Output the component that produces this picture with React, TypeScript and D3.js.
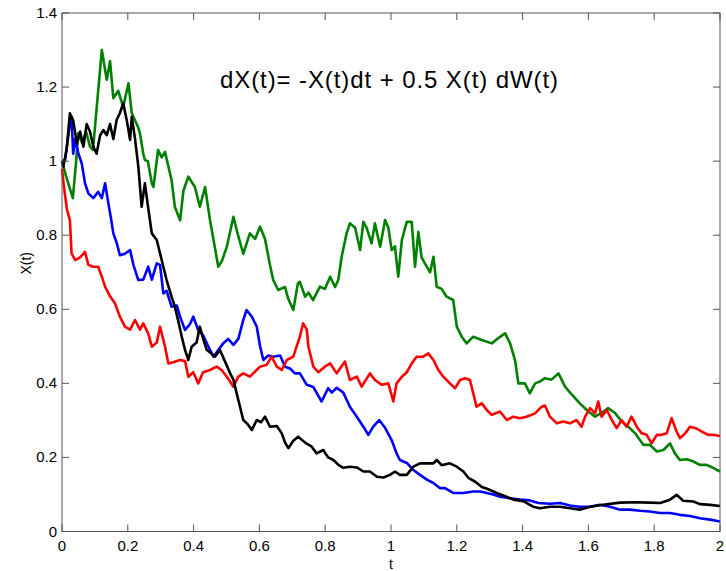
import React from 'react'
import * as d3 from 'd3'

const width = 726,
      height = 571,
      left = 62,
      right = 720,
      top = 13,
      bottom = 531.5

const xTicks = [0, 0.2, 0.4, 0.6, 0.8, 1, 1.2, 1.4, 1.6, 1.8, 2]
const yTicks = [0, 0.2, 0.4, 0.6, 0.8, 1, 1.2, 1.4]

// green path
const greenT = [0, .012, .033, .043, .049, .061, .073, .085, .094, .106, .121, .136, .146, .156, .171, .186, .202, .212, .232, .237, .247, .252, .261, .273, .278, .292, .303, .313, .333, .343, .359, .369, .384, .404, .419, .435, .450, .462, .475, .486, .501, .521, .535, .551, .571, .587, .602, .617, .632, .642, .657, .678, .687, .703, .717, .723, .739, .749, .763, .784, .799, .815, .830, .840, .850, .865, .875, .891, .906, .916, .926, .941, .951, .967, .982, .992, 1.002, 1.012, 1.022, 1.033, 1.048, 1.063, 1.073, 1.083, 1.093, 1.103, 1.119, 1.129, 1.139, 1.154, 1.169, 1.189, 1.200, 1.215, 1.230, 1.250, 1.276, 1.306, 1.326, 1.347, 1.362, 1.377, 1.387, 1.407, 1.422, 1.438, 1.453, 1.468, 1.488, 1.509, 1.529, 1.549, 1.574, 1.595, 1.620, 1.640, 1.660, 1.681, 1.701, 1.721, 1.742, 1.767, 1.787, 1.808, 1.828, 1.848, 1.863, 1.878, 1.899, 1.919, 1.939, 1.959, 1.979, 2]
const greenX = [1.0, 0.96, 0.90, 1.0, 1.075, 1.05, 1.08, 1.04, 1.03, 1.15, 1.30, 1.22, 1.27, 1.17, 1.19, 1.147, 1.21, 1.13, 1.09, 1.075, 1.02, 1.003, 1.0, 0.94, 0.93, 1.03, 1.01, 1.025, 0.949, 0.877, 0.84, 0.92, 0.958, 0.93, 0.877, 0.93, 0.84, 0.78, 0.715, 0.73, 0.769, 0.85, 0.80, 0.75, 0.805, 0.79, 0.823, 0.79, 0.72, 0.679, 0.652, 0.66, 0.63, 0.598, 0.67, 0.674, 0.634, 0.645, 0.625, 0.661, 0.655, 0.688, 0.66, 0.68, 0.742, 0.805, 0.832, 0.82, 0.76, 0.836, 0.82, 0.778, 0.832, 0.769, 0.841, 0.82, 0.76, 0.77, 0.688, 0.787, 0.836, 0.836, 0.715, 0.809, 0.74, 0.724, 0.70, 0.742, 0.661, 0.655, 0.634, 0.625, 0.553, 0.526, 0.508, 0.526, 0.517, 0.508, 0.522, 0.535, 0.508, 0.463, 0.40, 0.40, 0.373, 0.40, 0.405, 0.414, 0.41, 0.427, 0.391, 0.37, 0.346, 0.328, 0.31, 0.32, 0.333, 0.32, 0.297, 0.283, 0.265, 0.234, 0.234, 0.216, 0.22, 0.238, 0.211, 0.193, 0.195, 0.189, 0.18, 0.18, 0.172, 0.162]

// red path
const redT = [0, .006, .015, .024, .029, .040, .055, .070, .080, .094, .110, .121, .131, .146, .161, .176, .191, .207, .222, .237, .247, .262, .273, .288, .298, .313, .323, .338, .359, .374, .384, .399, .414, .429, .450, .470, .485, .501, .521, .536, .551, .571, .587, .602, .622, .637, .653, .668, .683, .703, .723, .733, .744, .749, .764, .779, .799, .815, .835, .860, .875, .896, .911, .936, .951, .972, .992, 1.007, 1.017, 1.033, 1.048, 1.063, 1.078, 1.098, 1.113, 1.129, 1.144, 1.159, 1.179, 1.195, 1.210, 1.225, 1.240, 1.250, 1.260, 1.276, 1.291, 1.306, 1.331, 1.352, 1.372, 1.392, 1.412, 1.438, 1.458, 1.468, 1.483, 1.504, 1.524, 1.544, 1.564, 1.579, 1.590, 1.605, 1.620, 1.630, 1.640, 1.656, 1.671, 1.686, 1.701, 1.716, 1.731, 1.747, 1.762, 1.777, 1.792, 1.808, 1.823, 1.838, 1.853, 1.868, 1.878, 1.894, 1.909, 1.929, 1.944, 1.964, 1.979, 2]
const redX = [0.98, 0.93, 0.87, 0.841, 0.751, 0.733, 0.74, 0.755, 0.72, 0.715, 0.715, 0.688, 0.661, 0.635, 0.616, 0.58, 0.553, 0.545, 0.571, 0.545, 0.562, 0.535, 0.499, 0.51, 0.553, 0.50, 0.454, 0.457, 0.463, 0.46, 0.418, 0.43, 0.40, 0.43, 0.436, 0.445, 0.436, 0.418, 0.391, 0.418, 0.427, 0.418, 0.432, 0.445, 0.45, 0.472, 0.445, 0.436, 0.463, 0.472, 0.526, 0.562, 0.545, 0.499, 0.445, 0.43, 0.445, 0.454, 0.427, 0.459, 0.409, 0.418, 0.391, 0.427, 0.409, 0.396, 0.40, 0.351, 0.40, 0.418, 0.43, 0.454, 0.472, 0.472, 0.481, 0.463, 0.436, 0.418, 0.40, 0.387, 0.409, 0.414, 0.409, 0.373, 0.337, 0.346, 0.328, 0.315, 0.324, 0.301, 0.31, 0.306, 0.31, 0.319, 0.337, 0.34, 0.31, 0.292, 0.297, 0.292, 0.301, 0.283, 0.31, 0.333, 0.319, 0.351, 0.31, 0.328, 0.301, 0.279, 0.301, 0.283, 0.31, 0.283, 0.265, 0.261, 0.238, 0.261, 0.261, 0.265, 0.306, 0.27, 0.252, 0.265, 0.283, 0.278, 0.27, 0.261, 0.261, 0.258]

// blue path
const blueT = [0, .009, .018, .024, .029, .034, .040, .050, .060, .070, .080, .095, .110, .121, .131, .141, .149, .156, .166, .176, .191, .207, .217, .232, .247, .262, .273, .288, .298, .308, .318, .333, .349, .359, .374, .389, .399, .414, .429, .445, .460, .475, .490, .505, .521, .536, .551, .561, .577, .592, .602, .612, .627, .642, .663, .678, .693, .708, .723, .744, .764, .789, .809, .820, .835, .855, .875, .896, .916, .931, .946, .964, .982, 1.002, 1.017, 1.027, 1.048, 1.068, 1.088, 1.109, 1.129, 1.149, 1.164, 1.189, 1.220, 1.250, 1.271, 1.291, 1.311, 1.331, 1.362, 1.392, 1.422, 1.448, 1.483, 1.514, 1.544, 1.574, 1.605, 1.635, 1.666, 1.696, 1.726, 1.757, 1.787, 1.818, 1.848, 1.878, 1.909, 1.939, 1.970, 2]
const blueX = [1.0, 1.003, 1.06, 1.10, 1.12, 1.02, 1.06, 1.02, 0.994, 0.94, 0.913, 0.90, 0.917, 0.90, 0.94, 0.886, 0.845, 0.805, 0.78, 0.746, 0.75, 0.76, 0.72, 0.679, 0.68, 0.715, 0.68, 0.724, 0.72, 0.643, 0.65, 0.607, 0.61, 0.58, 0.544, 0.56, 0.58, 0.544, 0.53, 0.499, 0.472, 0.49, 0.508, 0.52, 0.504, 0.52, 0.571, 0.598, 0.58, 0.553, 0.50, 0.463, 0.475, 0.472, 0.475, 0.445, 0.44, 0.427, 0.427, 0.396, 0.39, 0.351, 0.387, 0.375, 0.388, 0.375, 0.337, 0.31, 0.283, 0.261, 0.283, 0.301, 0.28, 0.247, 0.211, 0.193, 0.185, 0.166, 0.153, 0.14, 0.131, 0.117, 0.117, 0.104, 0.104, 0.108, 0.108, 0.104, 0.1, 0.094, 0.09, 0.086, 0.084, 0.077, 0.075, 0.077, 0.07, 0.067, 0.067, 0.072, 0.067, 0.059, 0.059, 0.056, 0.054, 0.05, 0.05, 0.045, 0.042, 0.036, 0.032, 0.027]

// black path
const blackT = [0, .004, .014, .024, .034, .045, .055, .065, .075, .085, .095, .105, .116, .126, .136, .146, .156, .166, .176, .186, .197, .207, .212, .222, .232, .242, .252, .261, .273, .288, .303, .318, .333, .343, .353, .364, .374, .384, .394, .409, .419, .429, .440, .455, .465, .480, .495, .511, .521, .531, .541, .551, .564, .577, .592, .605, .617, .632, .653, .668, .678, .688, .703, .718, .739, .759, .774, .794, .809, .825, .840, .855, .875, .896, .916, .936, .957, .977, .997, 1.012, 1.027, 1.048, 1.068, 1.088, 1.109, 1.129, 1.139, 1.154, 1.179, 1.200, 1.220, 1.235, 1.255, 1.276, 1.296, 1.321, 1.347, 1.372, 1.402, 1.432, 1.453, 1.483, 1.514, 1.544, 1.574, 1.605, 1.645, 1.696, 1.742, 1.787, 1.818, 1.848, 1.868, 1.888, 1.919, 1.939, 1.970, 2]
const blackX = [1.0, 0.985, 1.03, 1.129, 1.11, 1.048, 1.08, 1.039, 1.10, 1.08, 1.04, 1.02, 1.07, 1.084, 1.07, 1.10, 1.06, 1.111, 1.13, 1.156, 1.11, 1.057, 1.12, 1.06, 0.985, 0.877, 0.94, 0.88, 0.805, 0.787, 0.733, 0.679, 0.634, 0.607, 0.57, 0.526, 0.49, 0.463, 0.499, 0.51, 0.553, 0.52, 0.49, 0.48, 0.472, 0.49, 0.46, 0.427, 0.41, 0.373, 0.337, 0.301, 0.29, 0.274, 0.301, 0.295, 0.31, 0.283, 0.285, 0.265, 0.24, 0.225, 0.245, 0.256, 0.24, 0.229, 0.211, 0.22, 0.2, 0.193, 0.18, 0.172, 0.175, 0.173, 0.162, 0.162, 0.148, 0.146, 0.153, 0.162, 0.153, 0.153, 0.175, 0.184, 0.184, 0.184, 0.193, 0.179, 0.184, 0.175, 0.162, 0.145, 0.135, 0.12, 0.114, 0.104, 0.095, 0.086, 0.082, 0.067, 0.063, 0.067, 0.067, 0.063, 0.059, 0.067, 0.072, 0.078, 0.079, 0.078, 0.077, 0.086, 0.099, 0.083, 0.081, 0.074, 0.072, 0.069]

const series = [
  { t: greenT, x: greenX, color: '#008000' },
  { t: blueT, x: blueX, color: '#0000ff' },
  { t: redT, x: redX, color: '#ff0000' },
  { t: blackT, x: blackX, color: '#000000' }
]

const font = 'Arial, "Liberation Sans", Helvetica, sans-serif'
const axisColor = '#555'

export default function App () {
  const xScale = d3.scaleLinear().domain([0, 2]).range([left, right])
  const yScale = d3.scaleLinear().domain([0, 1.4]).range([bottom, top])

  const line = d3.line<[number, number]>()
                 .x(d => xScale(d[0]))
                 .y(d => yScale(d[1]))

  return (
    <div style={{ position: 'absolute', left: 0, top: 0 }}>
      <svg width={width} height={height} style={{ display: 'block', background: '#fff' }}>
        <rect x={0} y={0} width={width} height={height} fill='#fff' />

        <g id="lines">
          {series.map((s, i) => (
            <path key={i}
                  d={line(s.t.map((t, j) => [t, s.x[j]] as [number, number])) || ''}
                  fill='none' stroke={s.color} strokeWidth={2.6}
                  strokeLinejoin='round' />
          ))}
        </g>

        {/* axes box */}
        <rect x={left} y={top} width={right - left} height={bottom - top}
              fill='none' stroke={axisColor} strokeWidth={1} />

        <g id="xAxis" fontFamily={font} fontSize={15}>
          {xTicks.map((d, i) => (
            <g key={i} transform={`translate(${xScale(d)}, 0)`}>
              <line x1={0} x2={0} y1={bottom} y2={bottom - 7} stroke={axisColor} />
              <line x1={0} x2={0} y1={top} y2={top + 7} stroke={axisColor} />
              <text x={0} y={bottom + 19} textAnchor='middle' fill='#000'>{d}</text>
            </g>
          ))}
        </g>

        <g id="yAxis" fontFamily={font} fontSize={15}>
          {yTicks.map((d, i) => (
            <g key={i} transform={`translate(0, ${yScale(d)})`}>
              <line x1={left} x2={left + 7} y1={0} y2={0} stroke={axisColor} />
              <line x1={right} x2={right - 7} y1={0} y2={0} stroke={axisColor} />
              <text x={left - 5} y={5} textAnchor='end' fill='#000'>{d}</text>
            </g>
          ))}
        </g>

        <text x={(left + right) / 2} y={569} textAnchor='middle' fontFamily={font} fontSize={14}>t</text>
        <text transform={`translate(31, ${(top + bottom) / 2 - 9}) rotate(-90)`}
              textAnchor='middle' fontFamily={font} fontSize={14}>X(t)</text>

        <text x={220} y={88} fontFamily={font} fontSize={24}
              textLength={338} lengthAdjust='spacing'>dX(t)= -X(t)dt + 0.5 X(t) dW(t)</text>
      </svg>
    </div>
  )
}
